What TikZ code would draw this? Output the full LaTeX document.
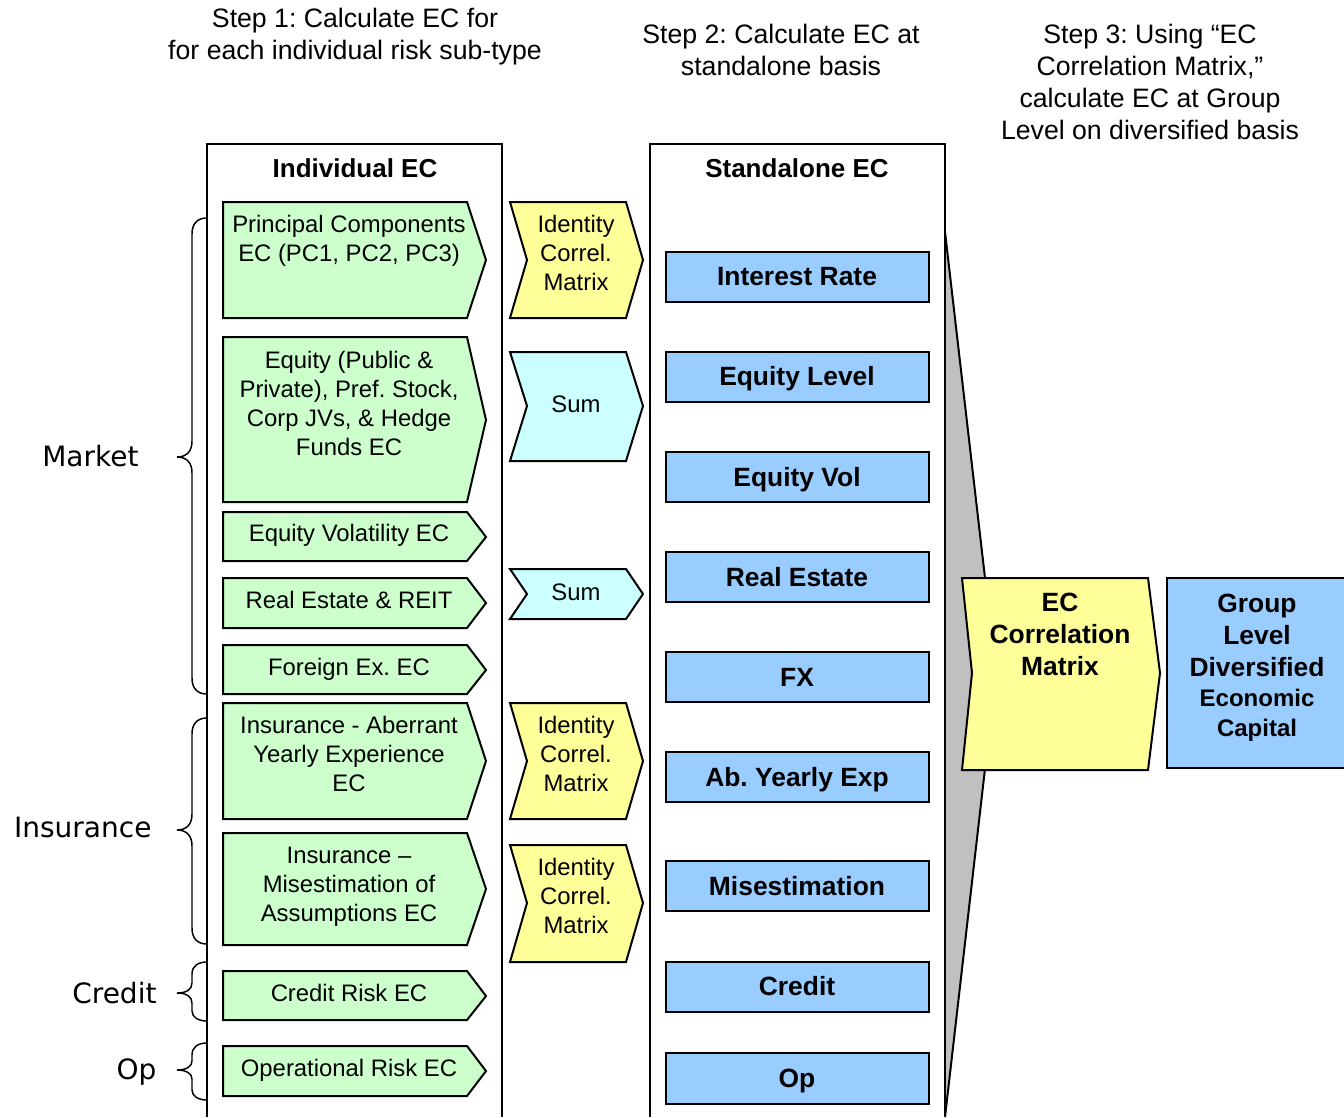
\documentclass[tikz,border=0pt]{standalone}
\usepackage{fontspec}
\setmainfont{Liberation Sans}
\newfontfamily\catfont{DejaVu Sans}
\frenchspacing

\definecolor{palegreen}{RGB}{204,255,204}
\definecolor{paleyellow}{RGB}{255,255,153}
\definecolor{palecyan}{RGB}{204,255,255}
\definecolor{paleblue}{RGB}{153,204,255}
\definecolor{funnelgray}{RGB}{192,192,192}

\tikzset{every picture/.style={line width=0.75pt}}
\tikzset{
  shapeline/.style={draw=black, line width=1.5},
  greenarrow/.style={shapeline, fill=palegreen},
  yellowchev/.style={shapeline, fill=paleyellow},
  cyanchev/.style={shapeline, fill=palecyan},
  bluebox/.style={shapeline, fill=paleblue},
  steptext/.style={align=center, inner sep=0.75pt, font=\fontsize{20}{24}\selectfont},
  coltitle/.style={inner sep=0.75pt, font=\bfseries\fontsize{19.5}{24}\selectfont},
  subtext/.style={align=center, inner sep=0.75pt, font=\fontsize{17.9}{21.75}\selectfont},
  standtext/.style={align=center, inner sep=0.75pt, font=\bfseries\fontsize{19.8}{24}\selectfont},
  cattext/.style={anchor=east, inner sep=0.75pt, font=\catfont\fontsize{21}{25}\selectfont}
}

\begin{document}
\begin{tikzpicture}[x=0.75pt,y=0.75pt,yscale=-1,xscale=1]
\useasboundingbox (0,0) rectangle (1344,1117);

%Shape: Funnel
\draw [fill=funnelgray, line width=1.5] (945,232) -- (996,673) -- (945,1117) ;

%Shape: Column frames
\draw [line width=1.5] (207,1117) -- (207,144) -- (502,144) -- (502,1117) ;
\draw [line width=1.5] (650,1117) -- (650,144) -- (945,144) -- (945,1117) ;

%Curve Lines: braces
\draw [line width=1.1] (207,218) .. controls (197,218) and (192,224) .. (192,234) -- (192,441) .. controls (192,451) and (187,457) .. (177,457) .. controls (187,457) and (192,463) .. (192,473) -- (192,678) .. controls (192,688) and (197,694) .. (207,694) ;
\draw [line width=1.1] (207,718) .. controls (197,718) and (192,724) .. (192,734) -- (192,814) .. controls (192,824) and (187,830) .. (177,830) .. controls (187,830) and (192,836) .. (192,846) -- (192,928) .. controls (192,938) and (197,944) .. (207,944) ;
\draw [line width=1.1] (207,962) .. controls (198,962) and (192,966) .. (192,974) -- (192,983) .. controls (192,989) and (187,993) .. (177,993) .. controls (187,993) and (192,997) .. (192,1003) -- (192,1011) .. controls (192,1017) and (198,1021) .. (207,1021) ;
\draw [line width=1.1] (207,1043) .. controls (198,1043) and (192,1047) .. (192,1055) -- (192,1061) .. controls (192,1066) and (187,1070) .. (177,1070) .. controls (187,1070) and (192,1074) .. (192,1079) -- (192,1090) .. controls (192,1096) and (198,1100) .. (207,1100) ;

%Shape: Individual EC arrows
\draw [greenarrow] (223,202) -- (467,202) -- (486,260) -- (467,318) -- (223,318) -- cycle ;
\draw [greenarrow] (223,337) -- (467,337) -- (486,420) -- (467,502) -- (223,502) -- cycle ;
\draw [greenarrow] (223,512) -- (467,512) -- (486,537) -- (467,561) -- (223,561) -- cycle ;
\draw [greenarrow] (223,578) -- (467,578) -- (486,603) -- (467,628) -- (223,628) -- cycle ;
\draw [greenarrow] (223,645) -- (467,645) -- (486,670) -- (467,694) -- (223,694) -- cycle ;
\draw [greenarrow] (223,703) -- (467,703) -- (486,761) -- (467,819) -- (223,819) -- cycle ;
\draw [greenarrow] (223,833) -- (467,833) -- (486,889) -- (467,945) -- (223,945) -- cycle ;
\draw [greenarrow] (223,971) -- (467,971) -- (486,996) -- (467,1020) -- (223,1020) -- cycle ;
\draw [greenarrow] (223,1046) -- (467,1046) -- (486,1071) -- (467,1096) -- (223,1096) -- cycle ;

%Shape: Chevrons
\draw [yellowchev] (510,202) -- (626,202) -- (643,260) -- (626,318) -- (510,318) -- (527,260) -- cycle ;
\draw [cyanchev] (510,352) -- (626,352) -- (643,406) -- (626,461) -- (510,461) -- (527,406) -- cycle ;
\draw [cyanchev] (510,569) -- (626,569) -- (643,594) -- (626,619) -- (510,619) -- (527,594) -- cycle ;
\draw [yellowchev] (510,703) -- (626,703) -- (643,761) -- (626,819) -- (510,819) -- (527,761) -- cycle ;
\draw [yellowchev] (510,845) -- (626,845) -- (643,903) -- (626,962) -- (510,962) -- (527,903) -- cycle ;

%Shape: Standalone boxes
\draw [bluebox] (666,252) rectangle (929,302) ;
\draw [bluebox] (666,352) rectangle (929,402) ;
\draw [bluebox] (666,452) rectangle (929,502) ;
\draw [bluebox] (666,552) rectangle (929,602) ;
\draw [bluebox] (666,652) rectangle (929,702) ;
\draw [bluebox] (666,752) rectangle (929,802) ;
\draw [bluebox] (666,861) rectangle (929,911) ;
\draw [bluebox] (666,962) rectangle (929,1012) ;
\draw [bluebox] (666,1053) rectangle (929,1104) ;

%Shape: Correlation chevron and group box
\draw [yellowchev] (962,578) -- (1148,578) -- (1160,673) -- (1148,770) -- (962,770) -- (972,673) -- cycle ;
\fill [paleblue] (1167,578) rectangle (1344,768) ;
\draw [line width=1.5] (1344,578) -- (1167,578) -- (1167,768) -- (1344,768) ;

% step headings
\draw (355,37) node (step1) [steptext] {Step 1: Calculate EC for\\for each individual risk sub-type};
\draw (781,50) node (step2) [steptext] {Step 2: Calculate EC at\\standalone basis};
\draw (1150,82) node (step3) [steptext] {Step 3: Using “EC\\Correlation Matrix,”\\calculate EC at Group\\Level on diversified basis};

% column titles
\draw (355,168) node (indiv) [coltitle] {Individual EC};
\draw (797,168) node (stand) [coltitle] {Standalone EC};

% risk groups
\draw (140,456) node (market) [cattext] {Market};
\draw (153,827) node (insur) [cattext] {Insurance};
\draw (158,993) node (credit) [cattext] {Credit};
\draw (158,1072) node (oprisk) [cattext] {Op};

% individual EC texts
\draw (349,241) node (pcT) [subtext] {Principal Components\\EC (PC1, PC2, PC3)};
\draw (349,403) node (eqT) [subtext] {Equity (Public \&\\Private), Pref. Stock,\\Corp JVs, \& Hedge\\Funds EC};
\draw (349,535) node (volT) [subtext] {Equity Volatility EC};
\draw (349,600) node (reT) [subtext] {Real Estate \& REIT};
\draw (349,669) node (fxT) [subtext] {Foreign Ex. EC};
\draw (349,754) node (ayeT) [subtext] {Insurance - Aberrant\\Yearly Experience\\EC};
\draw (349,887) node (misT) [subtext] {Insurance –\\Misestimation of\\Assumptions EC};
\draw (349,993) node (crT) [subtext] {Credit Risk EC};
\draw (349,1070) node (opT) [subtext] {Operational Risk EC};

% chevron texts
\draw (576,253) node (id1T) [subtext] {Identity\\Correl.\\Matrix};
\draw (576,404) node (sum1T) [subtext] {Sum};
\draw (576,592) node (sum2T) [subtext] {Sum};
\draw (576,754) node (id2T) [subtext] {Identity\\Correl.\\Matrix};
\draw (576,896) node (id3T) [subtext] {Identity\\Correl.\\Matrix};

% standalone texts
\draw (797,277) node (irB) [standtext] {Interest Rate};
\draw (797,379) node (elB) [standtext] {Equity Level};
\draw (797,480) node (evB) [standtext] {Equity Vol};
\draw (797,577) node (reB) [standtext] {Real Estate};
\draw (797,677) node (fxB) [standtext] {FX};
\draw (797,780) node (ayeB) [standtext] {Ab. Yearly Exp};
\draw (797,886) node (misB) [standtext] {Misestimation};
\draw (797,986) node (crB) [standtext] {Credit};
\draw (797,1081) node (opB) [standtext] {Op};

% step 3 texts
\draw (1060,634) node (ecmT) [standtext] {EC\\Correlation\\Matrix};
\draw (1257,668) node (groupT) [standtext] {Group\\Level\\Diversified\\[-1.5pt]{\fontsize{18}{22}\selectfont Economic}\\[-1.5pt]{\fontsize{18}{22}\selectfont Capital}};

\end{tikzpicture}
\end{document}
